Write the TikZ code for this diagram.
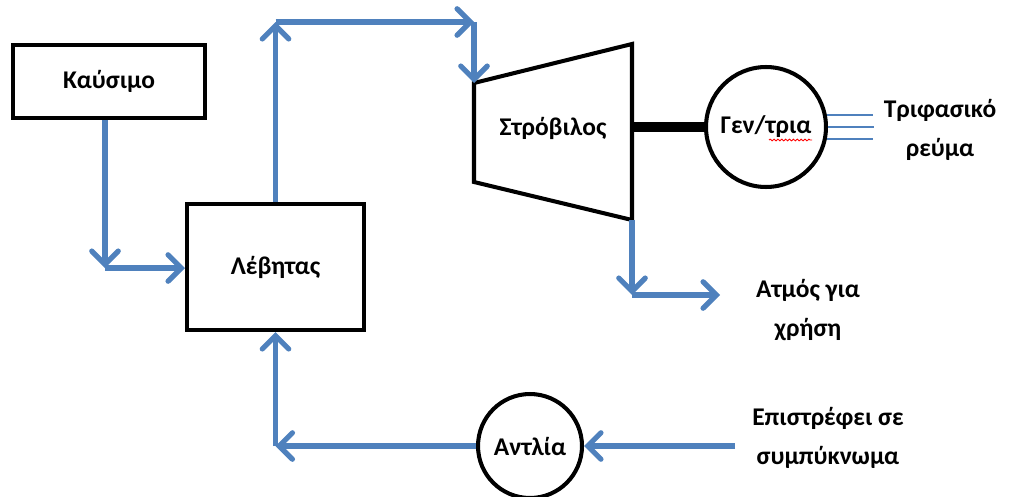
\documentclass[tikz,border=0pt]{standalone}
\usepackage{fontspec}
\setmainfont{Carlito}
\usepackage{tikz}
\usetikzlibrary{arrows.meta}
\usetikzlibrary{calc}
\usetikzlibrary{decorations.pathmorphing}
\definecolor{flowblue}{RGB}{79,129,189}

\begin{document}
\begin{tikzpicture}[x=0.02cm, y=-0.02cm,
		txt/.style={font=\fontsize{14.5}{22}\selectfont\bfseries, align=center},
		unit/.style={txt, draw, line width=2.3pt, inner sep=0pt},
		flow/.style={draw=flowblue, line width=3pt, -{Straight Barb[length=7.5pt, width=15pt, line cap=round]}},
		phase/.style={draw=flowblue, line width=0.8pt},
		shaft/.style={line width=5.7pt}]
		\useasboundingbox (0,0) rectangle (1018,497);
		\node[unit, minimum width=3.84cm, minimum height=1.46cm] (kaysimo) at (109,81.5) {Καύσιμο};
		\node[unit, minimum width=3.54cm, minimum height=2.52cm] (levitas) at (275.5,267) {Λέβητας};
		\coordinate (t1) at (474,83);
		\coordinate (t2) at (632,44);
		\coordinate (t3) at (632,220);
		\coordinate (t4) at (474,182);
		\draw[line width=2.3pt, line join=miter] (t1) -- (t2) -- (t3) -- (t4) -- cycle;
		\node[txt] (strovilos) at (553,128) {Στρόβιλος};
		\node[unit, circle, minimum size=2.4cm] (gen) at (766,127) {Γεν/τρια};
		\draw[red, line width=0.5pt, decorate, decoration={snake, amplitude=0.5pt, segment length=2.2pt}] ($(gen.center)+(3,13)$) -- ($(gen.center)+(46,13)$);
		\draw[shaft] (t2 |- gen) -- (gen);
		\foreach \a in {11.5,0,-11.5}
			\draw[phase] (gen.\a) -- ++(46,0);
		\node[txt] (trifasiko) at (940,130) {Τριφασικό\\ρεύμα};
		\node[unit, circle, minimum size=2.08cm] (antlia) at (530,446) {Αντλία};
		\coordinate (k1) at (105,268);
		\draw[flow] (k1 |- kaysimo.south) -- (k1);
		\draw[flow] (k1) -- (levitas.west |- k1);
		\coordinate (l1) at (275.5,22);
		\coordinate (l2) at (474,22);
		\draw[flow] (levitas.north) -- (l1);
		\draw[flow] (l1) -- (l2);
		\draw[flow] (l2) -- (t1);
		\coordinate (s1) at (632,295);
		\coordinate (s2) at (720,295);
		\draw[flow] (t3) -- (s1);
		\draw[flow] (s1) -- (s2);
		\node[txt] (atmos) at (808,310) {Ατμός για\\χρήση};
		\coordinate (r1) at (735,446);
		\coordinate (r2) at (levitas.south |- antlia);
		\draw[flow] (r1) -- (antlia);
		\draw[flow] (antlia) -- (r2);
		\draw[flow] (r2) -- (levitas.south);
		\node[txt] (epistrefei) at (828,438) {Επιστρέφει σε\\συμπύκνωμα};
	\end{tikzpicture}
\end{document}
